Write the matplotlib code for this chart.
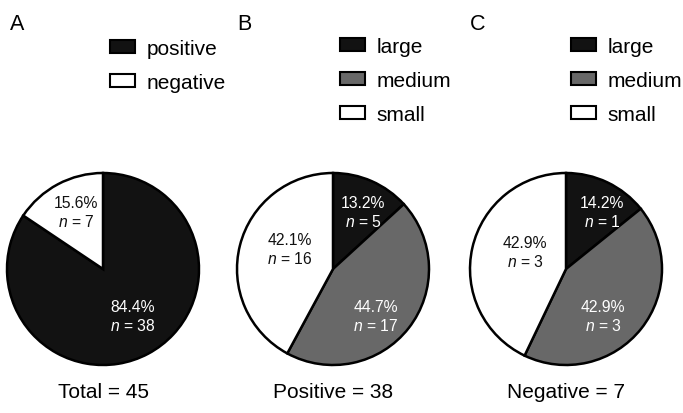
import matplotlib
matplotlib.use("Agg")
import matplotlib.pyplot as plt
from matplotlib.patches import Patch

plt.rcParams['font.family'] = ['Liberation Sans', 'DejaVu Sans']
plt.rcParams['mathtext.fontset'] = 'custom'
plt.rcParams['mathtext.it'] = 'Liberation Sans:italic'
plt.rcParams['mathtext.rm'] = 'Liberation Sans'

# ---- data ----
panel_letters = ["A", "B", "C"]
legend_labels_A = ["positive", "negative"]
legend_labels_BC = ["large", "medium", "small"]
pct_A = [84.4, 15.6]
n_A = [38, 7]
pct_B = [13.2, 44.7, 42.1]
n_B = [5, 17, 16]
pct_C = [14.2, 42.9, 42.9]
n_C = [1, 3, 3]
totals = ["Total = 45", "Positive = 38", "Negative = 7"]

# ---- style / layout ----
BLACK = "#121212"
GRAY = "#686868"
WHITE = "#ffffff"
colors_A = [BLACK, WHITE]
colors_BC = [BLACK, GRAY, WHITE]
text_colors_A = ["white", "#111111"]
text_colors_BC = ["white", "white", "#111111"]

W, H = 683, 414
fig = plt.figure(figsize=(W / 100, H / 100), dpi=100)
ax = fig.add_axes([0, 0, 1, 1])

centers_x = [103, 333, 566]
cy = H - 270
radius = 96

# label offsets (in pixels, relative to pie center; image y-down)
label_offsets = [
    [(29.5, 47), (-27, -57)],
    [(30, -57), (43, 47), (-43, -20)],
    [(36, -57), (37, 47), (-41, -17)],
]

panels = [
    (pct_A, n_A, colors_A, text_colors_A),
    (pct_B, n_B, colors_BC, text_colors_BC),
    (pct_C, n_C, colors_BC, text_colors_BC),
]

for i, (pcts, ns, cols, tcols) in enumerate(panels):
    cx = centers_x[i]
    ax.pie(pcts, colors=cols, startangle=90, counterclock=False,
           center=(cx, cy), radius=radius,
           wedgeprops=dict(edgecolor="black", linewidth=1.8))
    for j, (p, n) in enumerate(zip(pcts, ns)):
        dx, dy = label_offsets[i][j]
        ax.text(cx + dx, cy - dy, f"{p:.1f}%\n$n$ = {n}", ha="center",
                va="center", fontsize=11.3, color=tcols[j], linespacing=1.25)
    ax.text(cx, H - 393, totals[i], ha="center", va="center", fontsize=15)

ax.set_xlim(0, W)
ax.set_ylim(0, H)
ax.set_aspect("auto")
ax.axis("off")

# panel letters
letter_x = [10, 237, 470]
for lx, letter in zip(letter_x, panel_letters):
    fig.text(lx / W, 1 - 24 / H, letter, fontsize=15.5, va="center", ha="left")

# legends
def add_legend(labels, cols, x_px, y_px):
    handles = [Patch(facecolor=c, edgecolor="black", linewidth=1.5) for c in cols]
    fig.legend(handles, labels, loc="upper left",
               bbox_to_anchor=(x_px / W, 1 - y_px / H),
               frameon=False, fontsize=15, handlelength=1.2, handleheight=0.55,
               handletextpad=0.55, labelspacing=0.72, borderpad=0,
               borderaxespad=0)

add_legend(legend_labels_A, colors_A, 110, 40)
add_legend(legend_labels_BC, colors_BC, 340, 38)
add_legend(legend_labels_BC, colors_BC, 571, 38)

fig.savefig("out.png", dpi=100)
